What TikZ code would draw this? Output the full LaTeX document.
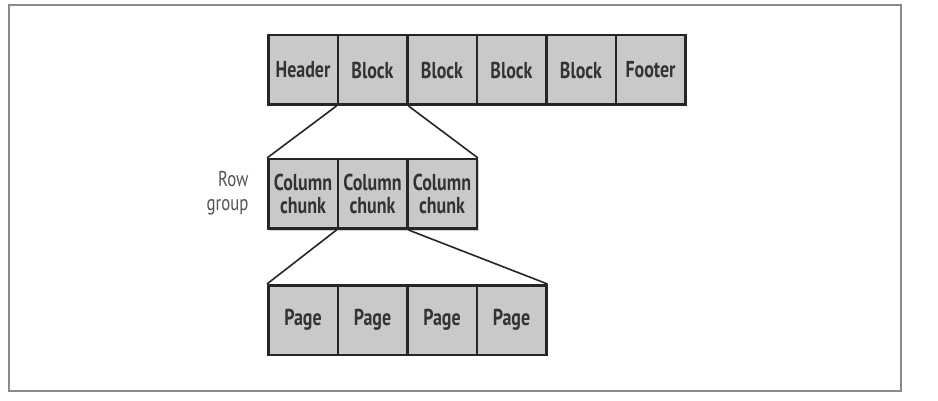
\documentclass[tikz,border=0pt]{standalone}
\usepackage{fontspec}
\setmainfont{PT Sans}[FakeStretch=0.78]
\usetikzlibrary{shadows}
\definecolor{boxfill}{HTML}{C9C9C9}
\definecolor{boxline}{HTML}{262626}
\definecolor{framegray}{HTML}{8A8A8A}
\tikzset{
  cell/.style={draw=boxline, line width=2.5pt, fill=boxfill, minimum width=69.5pt, minimum height=69.5pt, inner sep=0pt, anchor=north west, font=\fontsize{23}{23}\selectfont\bfseries\color{black!80}, align=center},
  rowshadow/.style={fill=black, opacity=0.18},
  link/.style={draw=boxline, line width=1.6pt},
  lbl/.style={font=\fontsize{21.5}{24}\selectfont\color{black!68}, align=right, anchor=east}
}
\begin{document}
\begin{tikzpicture}[x=1pt,y=-1pt]
\useasboundingbox (0,0) rectangle (938,401);
\draw[framegray, line width=1.6pt] (9,5) rectangle (901,391);
% shadows
\fill[rowshadow] (270,37) rectangle (687,106);
\fill[rowshadow] (270,160) rectangle (479,231);
\fill[rowshadow] (270,286) rectangle (548,356);
% top row
\node[cell] (h)  at (267,34) {Header};
\node[cell] (b1) at (336.5,34) {Block};
\node[cell] (b2) at (406,34) {Block};
\node[cell] (b3) at (475.5,34) {Block};
\node[cell] (b4) at (545,34) {Block};
\node[cell] (f)  at (614.5,34) {Footer};
% row group
\node[cell] (c1) at (267,158) {Column\\chunk};
\node[cell] (c2) at (336.5,158) {Column\\chunk};
\node[cell] (c3) at (406,158) {Column\\chunk};
\node[lbl] (rg) at (252,193) {Row\\group};
% pages
\node[cell] (p1) at (267,284) {Page};
\node[cell] (p2) at (336.5,284) {Page};
\node[cell] (p3) at (406,284) {Page};
\node[cell] (p4) at (475.5,284) {Page};
% connectors
\draw[link] (b1.south west) -- (c1.north west);
\draw[link] (b1.south east) -- (c3.north east);
\draw[link] (c2.south west) -- (p1.north west);
\draw[link] (c2.south east) -- (p4.north east);
\end{tikzpicture}
\end{document}
